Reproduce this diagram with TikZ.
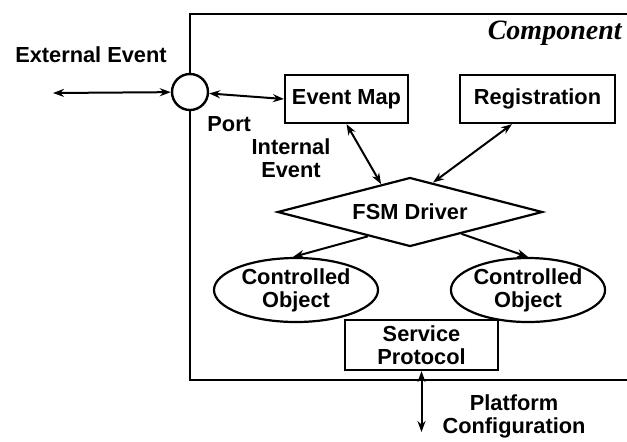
\documentclass[tikz,border=0pt]{standalone}
\usepackage{fontspec}
\setmainfont{Liberation Sans}
\newfontfamily\serifit{Liberation Serif}
\usetikzlibrary{arrows.meta,shapes.geometric}
\begin{document}
\begin{tikzpicture}[x=0.5pt,y=-0.5pt,
  lbl/.style={font=\fontsize{10.9}{11.5}\selectfont\bfseries, align=center, inner sep=0pt},
  box/.style={draw, line width=1.1pt, lbl, minimum height=24pt},
  obj/.style={draw, ellipse, line width=1.1pt, lbl, minimum height=32pt},
  tip/.tip={Stealth[length=5.5pt,width=4pt]},
  link/.style={line width=1pt, tip-tip},
  flow/.style={line width=1pt, -tip}]
\useasboundingbox (0,0) rectangle (627,441);
\fill[white] (0,0) rectangle (627,441);

% component frame, open to the right
\draw[line width=1.2pt] (627,14) -- (190,14) -- (190,380) -- (627,380);
\node[lbl, anchor=east, font=\serifit\bfseries\itshape\fontsize{14}{16}\selectfont] (comp) at (622,33) {Component};

% port on the frame
\node[draw, circle, fill=white, line width=1.2pt, minimum size=18pt, inner sep=0pt] (port) at (190,92) {};
\node[lbl, anchor=west] (portlbl) at (207,124) {Port};
\coordinate (ext) at (53,93);
\node[lbl] (extlbl) at (91,55) {External Event};

% inner parts
\node[box, minimum width=61.5pt] (evmap) at (346.5,99) {Event Map};
\node[box, minimum width=77.5pt] (reg) at (537.5,99) {Registration};
\node[lbl] (intlbl) at (291,158) {Internal\\Event};
\node[draw, diamond, aspect=3.9, line width=1.1pt, lbl, minimum width=132.5pt, minimum height=34.5pt] (fsm) at (410,212) {FSM Driver};
\node[obj, minimum width=82pt] (obj1) at (296,290) {Controlled\\Object};
\node[obj, minimum width=77pt] (obj2) at (528,290) {Controlled\\Object};
\node[box, minimum width=76.5pt, minimum height=25pt] (svc) at (421.5,345) {Service\\Protocol};
\coordinate (plat) at (421.5,432);
\node[lbl] (platlbl) at (514,416) {Platform\\Configuration};

% connectors
\draw[link] (ext) -- (port);
\draw[link] (port) -- (evmap.west);
\draw[link] (evmap.south) -- (fsm.136);
\draw[link] ([xshift=-12.75pt]reg.south) -- (fsm.52);
\draw[flow] (fsm.210) -- (obj1.95);
\draw[flow] (fsm.-23) -- (obj2.north);
\draw[link] (svc.south) -- (plat);
\end{tikzpicture}
\end{document}
